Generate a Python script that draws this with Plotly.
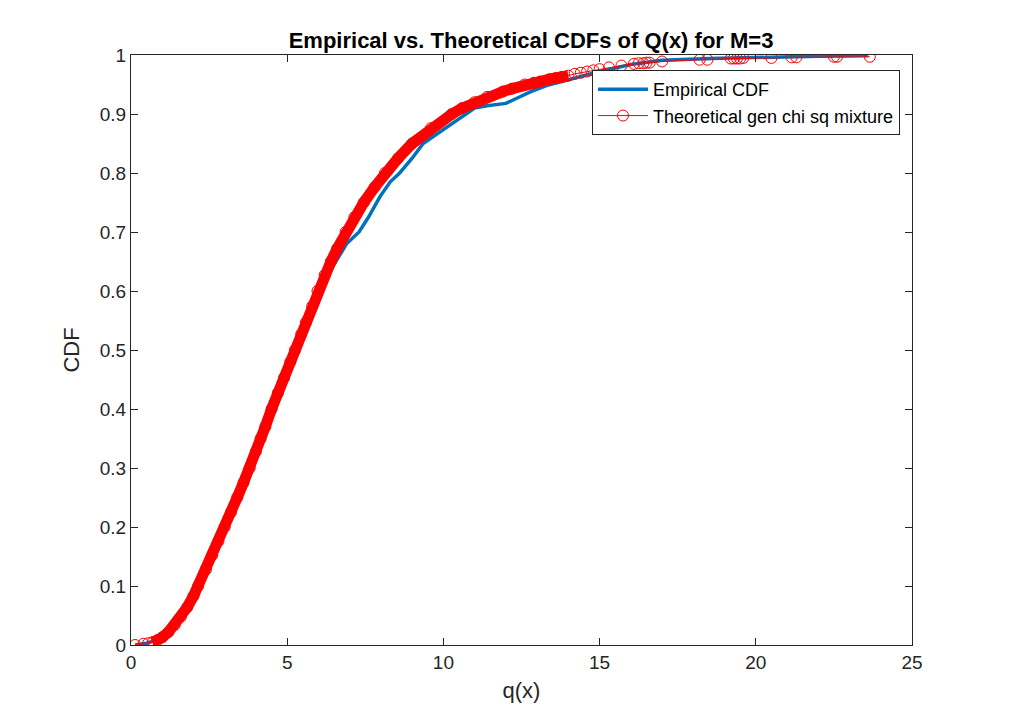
import plotly.graph_objects as go

# theoretical gen chi sq mixture CDF
theory_q = [0.13, 0.4, 0.55, 0.7, 0.85, 1.0, 1.2, 1.4, 1.6, 1.8, 2.0, 2.15, 2.4, 2.6, 2.8,
            3.0, 3.2, 3.4, 3.6, 3.8, 4.0, 4.15, 4.3, 4.5, 4.7, 4.9, 5.1, 5.25, 5.45, 5.6,
            5.8, 5.97, 6.2, 6.4, 6.6, 6.87, 7.15, 7.45, 7.8, 8.13, 8.55, 9.0, 9.6, 10.27,
            10.6, 11.0, 11.4, 11.9, 12.2, 12.6, 12.9, 13.1, 13.4, 13.6, 13.8, 14.0, 14.2,
            14.4, 14.6, 14.8, 15.0, 15.3, 15.7, 16.1, 16.25, 16.4, 16.5, 16.6, 17.0, 18.2,
            18.45, 19.2, 19.3, 19.4, 19.5, 19.6, 20.5, 21.15, 21.3, 22.5, 22.6, 23.65]
theory_cdf = [0.0, 0.002, 0.003, 0.005, 0.008, 0.013, 0.022, 0.034, 0.048, 0.064, 0.083, 0.1,
              0.128, 0.152, 0.176, 0.2, 0.225, 0.25, 0.275, 0.3, 0.328, 0.35, 0.37, 0.4,
              0.427, 0.453, 0.48, 0.5, 0.527, 0.547, 0.574, 0.6, 0.627, 0.65, 0.672, 0.7,
              0.725, 0.75, 0.776, 0.8, 0.825, 0.85, 0.876, 0.9, 0.91, 0.92, 0.929, 0.938,
              0.943, 0.95, 0.953, 0.955, 0.959, 0.961, 0.963, 0.965, 0.968, 0.97, 0.972,
              0.974, 0.976, 0.979, 0.982, 0.985, 0.986, 0.986, 0.987, 0.987, 0.989, 0.992,
              0.992, 0.994, 0.994, 0.994, 0.994, 0.995, 0.995, 0.996, 0.996, 0.997, 0.997,
              0.997]

# empirical CDF of the simulated samples
emp_q = [0.13, 0.5, 0.9, 1.5, 2.15, 3.0, 3.85, 4.55, 5.3, 6.05, 6.5, 6.9, 7.3, 7.6,
         7.97, 8.3, 8.6, 9.0, 9.35, 9.9, 10.3, 10.7, 11.0, 11.4, 12.0, 12.4, 12.8, 13.3,
         13.8, 14.4, 15.0, 16.0, 17.0, 18.5, 20.0, 22.0, 23.6]
emp_cdf = [0.0, 0.003, 0.01, 0.04, 0.1, 0.2, 0.3, 0.4, 0.5, 0.6, 0.645, 0.68, 0.7, 0.725,
           0.76, 0.785, 0.8, 0.825, 0.85, 0.87, 0.885, 0.9, 0.91, 0.914, 0.918, 0.928,
           0.938, 0.948, 0.955, 0.963, 0.972, 0.984, 0.991, 0.994, 0.996, 0.998, 0.999]

x_ticks = [0, 5, 10, 15, 20, 25]

fig = go.Figure()

fig.add_trace(go.Scatter(
    x=emp_q, y=emp_cdf, mode="lines", name="Empirical CDF",
    line=dict(color="#0072BD", width=3.5),
))

# dense overlapping circles in the reference read as a solid band
fig.add_trace(go.Scatter(
    x=theory_q[3:56], y=theory_cdf[3:56], mode="lines", showlegend=False,
    line=dict(color="#FF0000", width=11), hoverinfo="skip",
))

fig.add_trace(go.Scatter(
    x=theory_q, y=theory_cdf, mode="lines+markers",
    name="Theoretical gen chi sq mixture",
    line=dict(color="#FF0000", width=1),
    marker=dict(symbol="circle-open", size=11, color="#FF0000", line=dict(width=1)),
))

axis_style = dict(
    showline=True, linecolor="#262626", linewidth=1, mirror="ticks",
    ticks="inside", ticklen=7, tickcolor="#262626", showgrid=False, zeroline=False,
    tickfont=dict(family="Liberation Sans", size=19, color="#262626"),
)

# page body adds an 8px offset, so the figure is a bit smaller than the window
fig.update_layout(
    width=1002, height=717,
    paper_bgcolor="white", plot_bgcolor="white",
    margin=dict(l=123, r=98, t=47, b=80),
    title=dict(
        text="<b>Empirical vs. Theoretical CDFs of Q(x) for M=3</b>",
        x=0.522, xanchor="center", y=0.955, yanchor="middle",
        font=dict(family="Liberation Sans", size=22, color="black"),
    ),
    xaxis=dict(range=[0, 25], tickvals=x_ticks, **axis_style,
               title=dict(text="q(x)", standoff=10,
                          font=dict(family="Liberation Sans", size=22, color="#262626"))),
    yaxis=dict(range=[0, 1], dtick=0.1, **axis_style,
               title=dict(text="CDF", standoff=14,
                          font=dict(family="Liberation Sans", size=22, color="#262626"))),
    legend=dict(
        x=0.9846, xanchor="right", y=0.9746, yanchor="top",
        bgcolor="white", bordercolor="#262626", borderwidth=1,
        font=dict(family="Liberation Sans", size=18, color="black"),
        tracegroupgap=0, itemwidth=50,
    ),
    showlegend=True,
)

fig.write_html("out.html")
